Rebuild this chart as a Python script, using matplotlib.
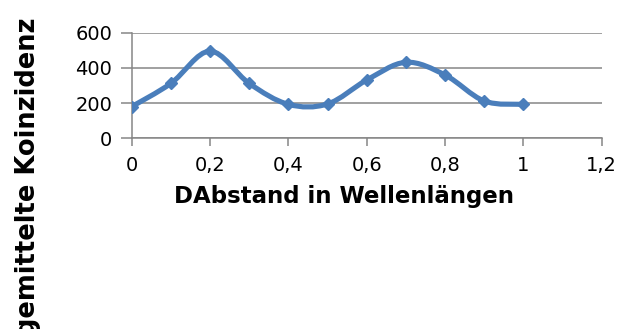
import matplotlib
matplotlib.use("Agg")
import matplotlib.pyplot as plt
from matplotlib.path import Path
from matplotlib.patches import PathPatch

# Measured coincidence counts versus spacing (in wavelengths)
abstand = [0.0, 0.1, 0.2, 0.3, 0.4, 0.5, 0.6, 0.7, 0.8, 0.9, 1.0]
koinzidenzen = [180, 312, 495, 312, 193, 195, 331, 432, 360, 212, 193]

x_ticks = [0, 0.2, 0.4, 0.6, 0.8, 1.0, 1.2]
x_tick_labels = ["0", "0,2", "0,4", "0,6", "0,8", "1", "1,2"]
y_ticks = [0, 200, 400, 600]
y_tick_labels = ["0", "200", "400", "600"]

x_label = "DAbstand in Wellenlängen"
y_label = "gemittelte Koinzidenz"

line_color = "#4a7ebb"
axis_color = "#868686"


def smooth_path(xs, ys):
    """Cubic Bezier path through the points (Catmull-Rom style tangents)."""
    n = len(xs)
    verts = [(xs[0], ys[0])]
    codes = [Path.MOVETO]
    for i in range(n - 1):
        i0 = max(i - 1, 0)
        i3 = min(i + 2, n - 1)
        c1 = (xs[i] + (xs[i + 1] - xs[i0]) / 6.0,
              ys[i] + (ys[i + 1] - ys[i0]) / 6.0)
        c2 = (xs[i + 1] - (xs[i3] - xs[i]) / 6.0,
              ys[i + 1] - (ys[i3] - ys[i]) / 6.0)
        verts += [c1, c2, (xs[i + 1], ys[i + 1])]
        codes += [Path.CURVE4] * 3
    return Path(verts, codes)


fig = plt.figure(figsize=(6.23, 3.29), dpi=100)
ax = fig.add_axes([0.2114, 0.5796, 0.7544, 0.3210])

ax.set_xlim(0, 1.2)
ax.set_ylim(0, 600)

ax.add_patch(PathPatch(smooth_path(abstand, koinzidenzen), transform=ax.transData,
                       facecolor="none", edgecolor=line_color, lw=3.7,
                       capstyle="round", joinstyle="round", zorder=3))
ax.plot(abstand, koinzidenzen, ls="none", marker="D", ms=6,
        color=line_color, zorder=4)

ax.set_xticks(x_ticks)
ax.set_xticklabels(x_tick_labels)
ax.set_yticks(y_ticks)
ax.set_yticklabels(y_tick_labels)

ax.yaxis.grid(True, color=axis_color, lw=1.1)
ax.set_axisbelow(True)
for side in ("top", "right"):
    ax.spines[side].set_visible(False)
for side in ("left", "bottom"):
    ax.spines[side].set_color(axis_color)
    ax.spines[side].set_linewidth(1.1)

ax.tick_params(axis="y", direction="out", length=8, width=1.1, color=axis_color,
               pad=6, labelsize=14, labelcolor="black")
ax.tick_params(axis="x", direction="out", length=5.5, width=1.1, color=axis_color,
               pad=7, labelsize=14, labelcolor="black")

fig.text(344 / 623, 1 - 203 / 329, x_label, ha="center", va="baseline",
         fontsize=16.5, fontweight="bold")
fig.text(35 / 623, 1 - 17 / 329, y_label, rotation=90, rotation_mode="anchor",
         ha="right", va="baseline", fontsize=18.5, fontweight="bold")

fig.savefig("out.png", dpi=100, facecolor="white")
